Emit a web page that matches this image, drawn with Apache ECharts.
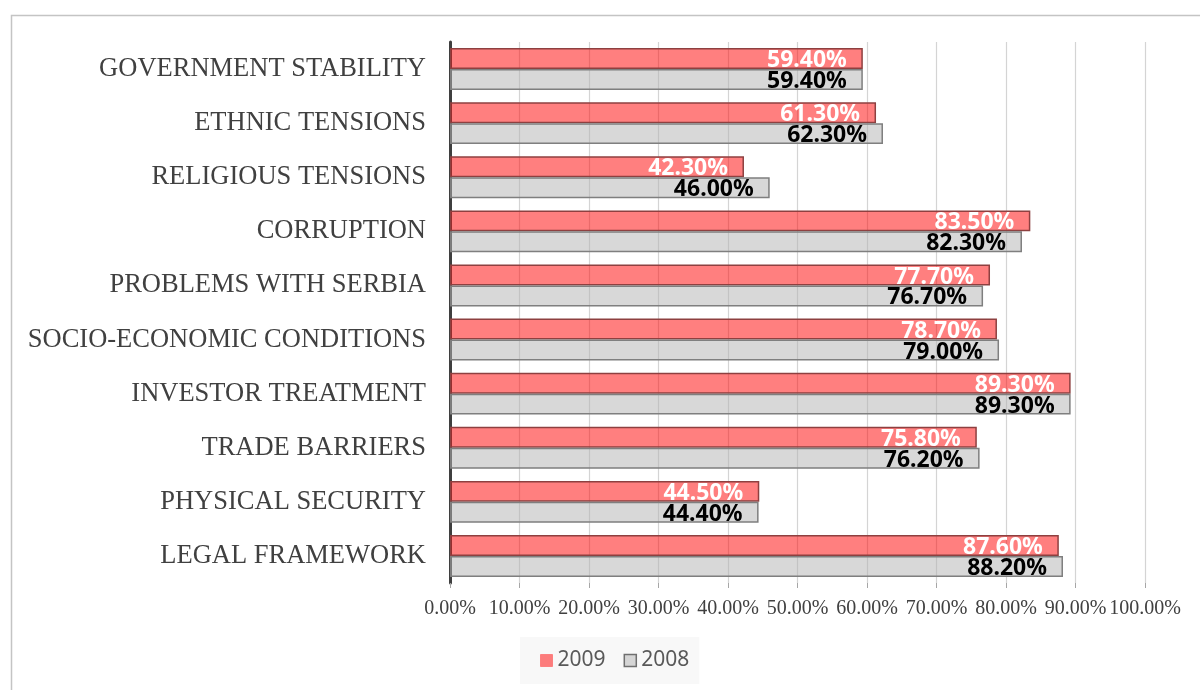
<!DOCTYPE html>
<html>
<head>
<meta charset="utf-8">
<script src="https://cdn.jsdelivr.net/npm/echarts@6/dist/echarts.min.js"></script>
<style>
html,body{margin:0;padding:0;background:#fff;}
#main{width:1200px;height:690px;}
</style>
</head>
<body>
<div id="main"></div>
<script>
const categories = ["GOVERNMENT STABILITY","ETHNIC TENSIONS","RELIGIOUS TENSIONS","CORRUPTION","PROBLEMS WITH SERBIA","SOCIO-ECONOMIC CONDITIONS","INVESTOR TREATMENT","TRADE BARRIERS","PHYSICAL SECURITY","LEGAL FRAMEWORK"];
const values2009 = [59.4, 61.3, 42.3, 83.5, 77.7, 78.7, 89.3, 75.8, 44.5, 87.6];
const values2008 = [59.4, 62.3, 46.0, 82.3, 76.7, 79.0, 89.3, 76.2, 44.4, 88.2];
const seriesNames = ["2009", "2008"];

const chart = echarts.init(document.getElementById('main'));
const labelFmt = p => p.value.toFixed(2) + '%';
chart.setOption({
  animation: false,
  graphic: [{
    type: 'rect', left: 9, top: 13, silent: true, z: -1,
    shape: {width: 1400, height: 900},
    style: {fill: 'none', stroke: '#c4c4c4', lineWidth: 1.5}
  }],
  grid: {left: 450, right: 55, top: 42, bottom: 107},
  legend: {
    data: [
      {name: seriesNames[0], icon: 'rect', itemStyle: {borderColor: 'rgba(255,90,90,0.6)', borderWidth: 1}},
      {name: seriesNames[1], icon: 'rect', itemStyle: {borderColor: '#6f6f6f', borderWidth: 1.5}}
    ],
    left: 520, top: 637,
    backgroundColor: '#f8f8f8',
    padding: [13, 10, 13, 20],
    itemWidth: 12, itemHeight: 12, itemGap: 18,
    textStyle: {fontFamily: 'Noto Sans', fontSize: 21, color: '#595959'}
  },
  xAxis: {
    type: 'value', min: 0, max: 100, interval: 10,
    axisLine: {show: false},
    axisTick: {show: true, length: 5, lineStyle: {color: '#a6a6a6', width: 1}},
    splitLine: {show: true, lineStyle: {color: '#d4d4d4', width: 1.2}},
    axisLabel: {
      margin: 16,
      fontFamily: 'Liberation Serif', fontSize: 20, color: '#404040',
      formatter: v => v.toFixed(2) + '%'
    }
  },
  yAxis: {
    type: 'category', data: categories, inverse: true,
    axisLine: {show: true, lineStyle: {color: '#3f3f3f', width: 3}},
    axisTick: {show: false},
    axisLabel: {margin: 24, padding: [6, 0, 0, 0], fontFamily: 'Liberation Serif', fontSize: 26.5, color: '#404040'}
  },
  series: [
    {
      name: seriesNames[0], type: 'bar', data: values2009,
      barGap: '0%', barCategoryGap: '22.6%',
      itemStyle: {color: 'rgba(255,0,0,0.5)', borderColor: '#8e4040', borderWidth: 1.5},
      label: {show: true, position: 'insideRight', distance: 16, offset: [0, 2],
        formatter: labelFmt, fontFamily: 'Noto Sans', fontWeight: 'bold', fontSize: 23, color: '#ffffff'}
    },
    {
      name: seriesNames[1], type: 'bar', data: values2008,
      barGap: '0%', barCategoryGap: '22.6%',
      itemStyle: {color: 'rgba(178,178,178,0.5)', borderColor: '#7f7f7f', borderWidth: 1.5},
      label: {show: true, position: 'insideRight', distance: 16, offset: [0, 2],
        formatter: labelFmt, fontFamily: 'Noto Sans', fontWeight: 'bold', fontSize: 23, color: '#000000'}
    }
  ]
});
</script>
</body>
</html>
